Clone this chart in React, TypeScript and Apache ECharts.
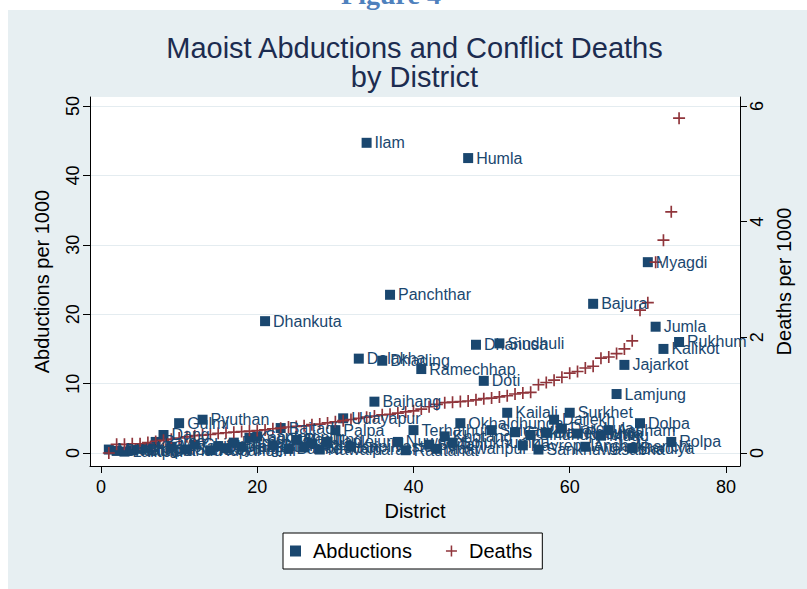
import React, { useEffect, useRef } from "react";
import * as echarts from "echarts";

// District order (x = rank by conflict deaths)
const districts = [
  "Mustang", "Bhaktapur", "Lalitpur", "Kathmandu", "Jhapa", "Kaski", "Parsa", "Dang", "Morang", "Gulmi",
  "Sunsari", "Chitwan", "Pyuthan", "Rupandehi", "Bhojpur", "Syangja", "Parbat", "Tanahu", "Kanchanpur", "Saptari",
  "Dhankuta", "Siraha", "Baitadi", "Banke", "Baglung", "Mahottari", "Bara", "Nawalparasi", "Taplejung", "Palpa",
  "Udayapur", "Kapilvastu", "Dolakha", "Ilam", "Bajhang", "Dhading", "Panchthar", "Nuwakot", "Rautahat", "Terhathum",
  "Ramechhap", "Sarlahi", "Makwanpur", "Khotang", "Solukhumbu", "Okhaldhunga", "Humla", "Dhanusa", "Doti", "Salyan",
  "Sindhuli", "Kailali", "Gorkha", "Kavrepalanchok", "Sindhupalchok", "Sankhuwasabha", "Dadeldhura", "Dailekh", "Darchula", "Surkhet",
  "Rasuwa", "Arghakhanchi", "Bajura", "Mugu", "Achham", "Lamjung", "Jajarkot", "Bardiya", "Dolpa", "Myagdi",
  "Jumla", "Kalikot", "Rolpa", "Rukhum",
];

const abductions = [
  0.5, 0.3, 0.2, 0.4, 0.6, 0.8, 1.6, 2.6, 0.9, 4.3,
  0.5, 1.2, 4.8, 0.4, 1.0, 0.7, 1.5, 0.9, 2.2, 2.4,
  19.0, 1.1, 3.6, 0.6, 1.9, 0.8, 1.4, 0.5, 1.6, 3.3,
  5.0, 0.9, 13.6, 44.7, 7.4, 13.3, 22.8, 1.6, 0.4, 3.3,
  12.1, 1.2, 0.6, 2.4, 1.5, 4.3, 42.5, 15.6, 10.4, 3.3,
  15.8, 5.8, 3.0, 1.1, 2.6, 0.5, 2.9, 4.8, 3.5, 5.8,
  2.8, 0.9, 21.5, 2.5, 3.3, 8.5, 12.7, 0.7, 4.3, 27.5,
  18.2, 15.0, 1.6, 16.0,
];

const deaths = [
  0.0, 0.15, 0.15, 0.16, 0.16, 0.18, 0.2, 0.22, 0.24, 0.26,
  0.28, 0.3, 0.31, 0.32, 0.34, 0.35, 0.36, 0.37, 0.38, 0.39,
  0.4, 0.42, 0.43, 0.45, 0.46, 0.47, 0.49, 0.5, 0.52, 0.54,
  0.56, 0.58, 0.6, 0.62, 0.64, 0.66, 0.67, 0.69, 0.71, 0.73,
  0.76, 0.8, 0.84, 0.87, 0.88, 0.89, 0.9, 0.92, 0.94, 0.95,
  0.97, 0.99, 1.02, 1.04, 1.05, 1.18, 1.22, 1.26, 1.31, 1.38,
  1.41, 1.47, 1.5, 1.64, 1.66, 1.72, 1.8, 1.94, 2.47, 2.6,
  3.3, 3.68, 4.17, 5.79,
];

const xTicks = [0, 20, 40, 60, 80];
const leftTicks = [0, 10, 20, 30, 40, 50];
const rightTicks = [0, 2, 4, 6];

const PLUS = "path://M4.3,0 H5.7 V4.3 H10 V5.7 H5.7 V10 H4.3 V5.7 H0 V4.3 H4.3 Z";
const FONT = '"Liberation Sans", Arial, Helvetica, sans-serif';
const NAVY = "#1a476f";
const MAROON = "#90353b";

export default function App() {
  const ref = useRef<HTMLDivElement>(null);
  useEffect(() => {
    const chart = echarts.init(ref.current!, null, { renderer: "svg" });
    const abdData = districts.map((n, i) => ({ name: n, value: [i + 1, abductions[i]] }));
    const dthData = deaths.map((d, i) => ({ name: districts[i], value: [i + 1, d] }));
    const leftMin = -1.87;
    const leftMax = 51.3;
    const ratio = 6 / 50;
    chart.setOption({
      animation: false,
      backgroundColor: "#e7eff2",
      graphic: [
        { type: "rect", shape: { x: 0, y: 0, width: 807, height: 10 }, style: { fill: "#ffffff" }, silent: true },
        { type: "rect", shape: { x: 0, y: 0, width: 8, height: 589 }, style: { fill: "#ffffff" }, silent: true },
        {
          type: "text",
          x: 391,
          y: 8,
          style: {
            text: "Figure 4",
            align: "center",
            verticalAlign: "bottom",
            font: 'bold 28px "Liberation Serif", "Times New Roman", serif',
            fill: "#4f81bd",
          },
          silent: true,
        },
        {
          type: "text",
          x: 414.5,
          y: 33,
          style: {
            text: "Maoist Abductions and Conflict Deaths\nby District",
            align: "center",
            verticalAlign: "top",
            font: "29px " + FONT,
            lineHeight: 29,
            fill: "#1c2c50",
          },
          silent: true,
        },
      ],
      grid: {
        left: 90,
        right: 67,
        top: 97,
        bottom: 123,
        show: true,
        backgroundColor: "#ffffff",
        borderWidth: 0,
      },
      legend: {
        data: [
          { name: "Abductions", icon: "rect" },
          { name: "Deaths", icon: PLUS },
        ],
        left: 283,
        top: 533,
        orient: "horizontal",
        itemWidth: 11,
        itemHeight: 11,
        itemGap: 34,
        padding: [8, 10, 8, 7],
        borderColor: "#000000",
        borderWidth: 1,
        borderRadius: 0,
        backgroundColor: "#ffffff",
        itemStyle: { opacity: 1 },
        textStyle: { fontSize: 20, color: "#000000", fontFamily: FONT, padding: [0, 0, 0, 7] },
      },
      xAxis: {
        type: "value",
        min: -1.41,
        max: 81.8,
        name: "District",
        nameLocation: "middle",
        nameGap: 32,
        nameTextStyle: { fontSize: 20, color: "#000000", fontFamily: FONT },
        axisLine: { show: true, onZero: false, lineStyle: { color: "#000000", width: 1 } },
        axisTick: { show: true, length: 7, customValues: xTicks, lineStyle: { color: "#000000" } },
        axisLabel: { customValues: xTicks, fontSize: 18, color: "#000000", margin: 12, fontFamily: FONT },
        splitLine: { show: false },
      },
      yAxis: [
        {
          type: "value",
          position: "left",
          min: leftMin,
          max: leftMax,
          name: "Abductions per 1000",
          nameLocation: "middle",
          nameRotate: 90,
          nameGap: 38,
          nameTextStyle: { fontSize: 20, color: "#000000", fontFamily: FONT },
          axisLine: { show: true, onZero: false, lineStyle: { color: "#000000", width: 1 } },
          axisTick: { show: true, length: 7, customValues: leftTicks, lineStyle: { color: "#000000" } },
          axisLabel: { customValues: leftTicks, rotate: 90, fontSize: 18, color: "#000000", margin: 8, fontFamily: FONT },
          splitLine: { show: true, lineStyle: { color: "#e4ecf0", width: 1 } },
        },
        {
          type: "value",
          position: "right",
          min: leftMin * ratio,
          max: leftMax * ratio,
          name: "Deaths per 1000",
          nameLocation: "middle",
          nameRotate: 90,
          nameGap: 34,
          nameTextStyle: { fontSize: 20, color: "#000000", fontFamily: FONT },
          axisLine: { show: true, onZero: false, lineStyle: { color: "#000000", width: 1 } },
          axisTick: { show: true, length: 7, customValues: rightTicks, lineStyle: { color: "#000000" } },
          axisLabel: { customValues: rightTicks, rotate: 90, fontSize: 18, color: "#000000", margin: 8, fontFamily: FONT },
          splitLine: { show: false },
        },
      ],
      series: [
        {
          name: "Abductions",
          type: "scatter",
          yAxisIndex: 0,
          symbol: "rect",
          symbolSize: 10,
          itemStyle: { color: NAVY, opacity: 1 },
          label: {
            show: true,
            position: "right",
            distance: 3,
            formatter: "{b}",
            color: NAVY,
            fontSize: 16,
            fontFamily: FONT,
          },
          data: abdData,
        },
        {
          name: "Deaths",
          type: "scatter",
          yAxisIndex: 1,
          symbol: PLUS,
          symbolSize: 12,
          itemStyle: { color: MAROON, opacity: 1 },
          data: dthData,
        },
      ],
    });
    return () => chart.dispose();
  }, []);
  return (
    <div
      ref={ref}
      style={{ position: "absolute", left: 0, top: 0, width: 807, height: 589 }}
    />
  );
}
